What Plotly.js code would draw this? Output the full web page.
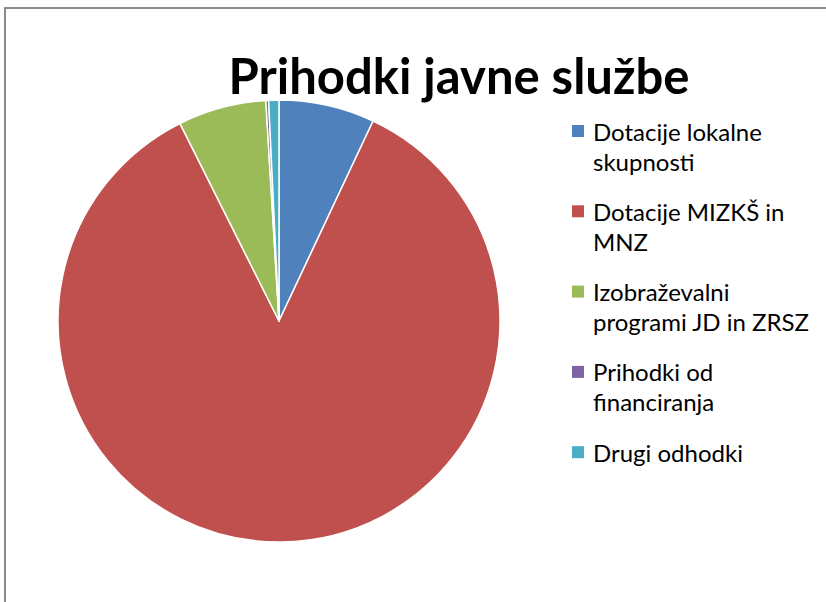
<!DOCTYPE html>
<html>
<head>
<meta charset="utf-8">
<script src="https://cdn.plot.ly/plotly-3.0.1.min.js"></script>
<style>
  html, body { margin: 0; padding: 0; background: #fff; }
  #frame { position: absolute; left: 4px; top: 7px; width: 900px; height: 700px;
           border-left: 2px solid #8c8c8c; border-top: 2px solid #8c8c8c; }
  #chart { position: absolute; left: 0; top: 0; width: 826px; height: 602px; }
</style>
</head>
<body>
<div id="frame"></div>
<div id="chart"></div>
<script>
const categories = [
  ["Dotacije lokalne", "skupnosti"],
  ["Dotacije MIZKŠ in", "MNZ"],
  ["Izobraževalni", "programi JD in ZRSZ"],
  ["Prihodki od", "financiranja"],
  ["Drugi odhodki"]
];
const values = [7.0, 85.6, 6.45, 0.2, 0.75];
const colors = ["#4F81BD", "#C0504D", "#9BBB59", "#8064A2", "#4BACC6"];
const chartTitle = "Prihodki javne službe";

const W = 826, H = 602;
const cx = 279, cy = 321, r = 221;
const FONT = "Lato, 'Open Sans', sans-serif";

const trace = {
  type: "pie",
  labels: categories.map(c => c.join(" ")),
  values: values,
  sort: false,
  direction: "clockwise",
  rotation: 0,
  textinfo: "none",
  hoverinfo: "label+percent",
  showlegend: false,
  marker: { colors: colors, line: { color: "#ffffff", width: 1.5 } },
  domain: {
    x: [(cx - r) / W, (cx + r) / W],
    y: [(H - (cy + r)) / H, (H - (cy - r)) / H]
  }
};

// Legend (Excel style: square + wrapped label, evenly spaced)
const legX = 572, legTextX = 591, legTop = 131, itemStep = 80.3, lineStep = 30, sq = 12;
const shapes = [];
const annotations = [];
categories.forEach((lines, i) => {
  const yc = legTop + i * itemStep;
  shapes.push({
    type: "rect", xref: "paper", yref: "paper",
    x0: legX / W, x1: (legX + sq) / W,
    y0: 1 - (yc + sq / 2) / H, y1: 1 - (yc - sq / 2) / H,
    fillcolor: colors[i], line: { width: 0 }
  });
  lines.forEach((t, j) => {
    annotations.push({
      text: t, xref: "paper", yref: "paper",
      x: legTextX / W, xanchor: "left",
      y: 1 - (yc + j * lineStep) / H, yanchor: "middle",
      showarrow: false, align: "left",
      font: { family: FONT, size: 24, color: "#000" }
    });
  });
});

const layout = {
  width: W, height: H,
  margin: { l: 0, r: 0, t: 0, b: 0 },
  paper_bgcolor: "rgba(0,0,0,0)",
  plot_bgcolor: "rgba(0,0,0,0)",
  font: { family: FONT, color: "#000" },
  title: {
    text: "<b>" + chartTitle + "</b>",
    font: { family: FONT, size: 49, color: "#000" },
    x: 459 / W, xanchor: "center",
    y: 1 - 77 / H, yanchor: "middle"
  },
  showlegend: false,
  shapes: shapes,
  annotations: annotations
};

Plotly.newPlot("chart", [trace], layout, { displayModeBar: false, staticPlot: true });
</script>
</body>
</html>
